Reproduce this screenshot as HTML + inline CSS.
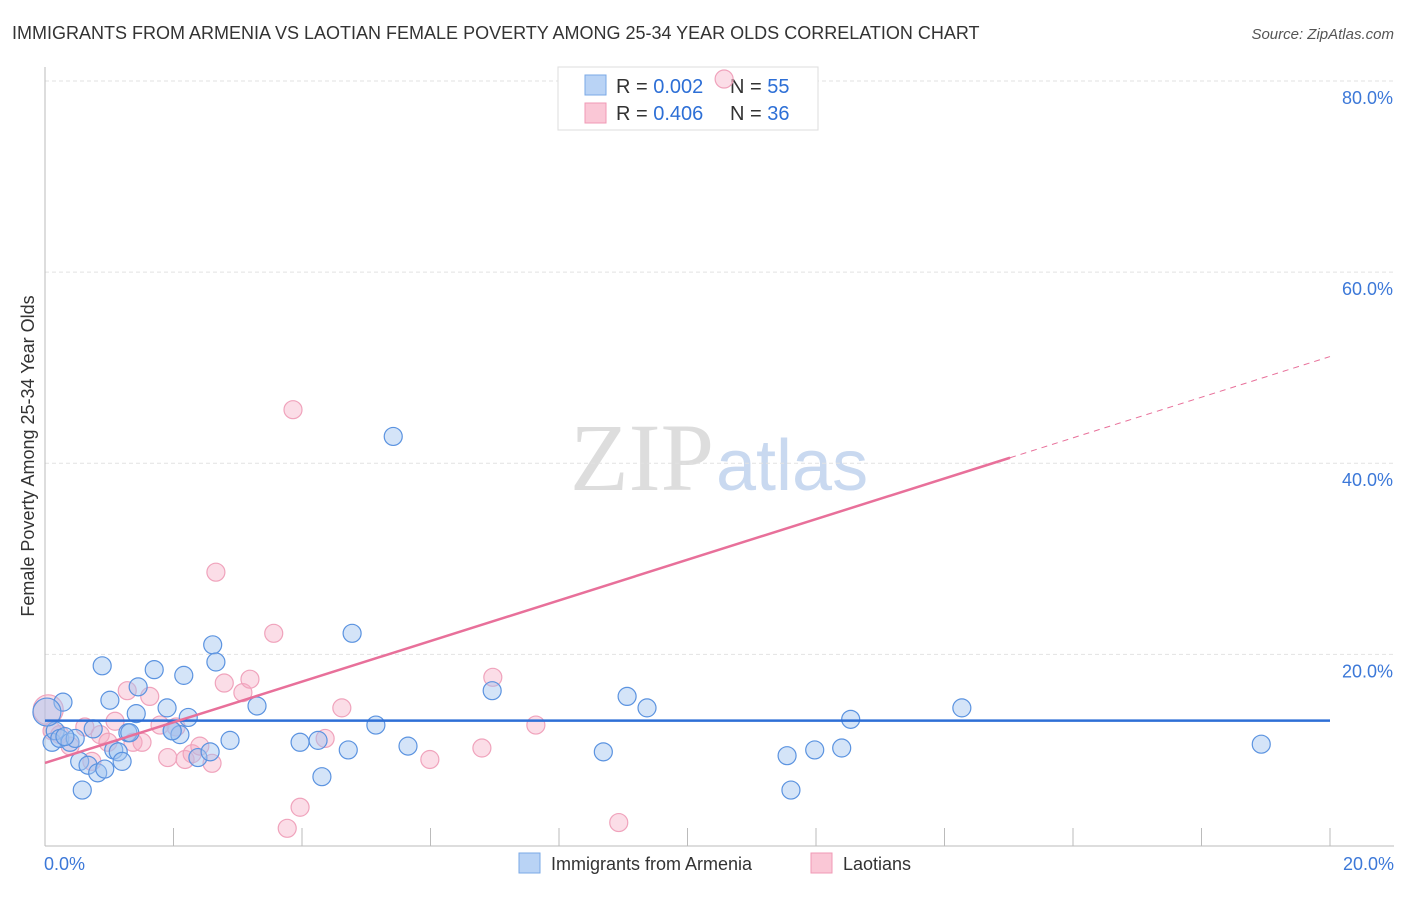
<!DOCTYPE html>
<html><head><meta charset="utf-8"><style>
body{margin:0;background:#fff;font-family:"Liberation Sans",sans-serif}
</style></head><body>
<svg id="c" width="1406" height="892" xmlns="http://www.w3.org/2000/svg">
<text x="12" y="39" font-size="18" fill="#333">IMMIGRANTS FROM ARMENIA VS LAOTIAN FEMALE POVERTY AMONG 25-34 YEAR OLDS CORRELATION CHART</text>
<text x="1394" y="39" font-size="15" fill="#555" font-style="italic" text-anchor="end">Source: ZipAtlas.com</text>
<text x="714" y="490" font-size="96" fill="#ddd" font-family="Liberation Serif,serif" text-anchor="end">ZIP</text>
<text x="716" y="490" font-size="72" fill="#c9d9f0">atlas</text>
<text transform="translate(34,456) rotate(-90)" font-size="18" fill="#333" text-anchor="middle">Female Poverty Among 25-34 Year Olds</text>
<g id="grid"></g>
<g>
<rect x="558" y="67" width="260" height="63" fill="#fff" stroke="#ddd"/>
<rect x="585" y="75" width="21" height="20" fill="#b9d3f5" stroke="#7aa8e6"/>
<rect x="585" y="103" width="21" height="20" fill="#fac7d6" stroke="#f09ab5"/>
<text x="616" y="93" font-size="20" fill="#333">R = <tspan fill="#2d6fd6">0.002</tspan></text>
<text x="730" y="93" font-size="20" fill="#333">N = <tspan fill="#2d6fd6">55</tspan></text>
<text x="616" y="120" font-size="20" fill="#333">R = <tspan fill="#2d6fd6">0.406</tspan></text>
<text x="730" y="120" font-size="20" fill="#333">N = <tspan fill="#2d6fd6">36</tspan></text>
</g>
<g id="pts"></g><g id="lines"></g>
<g>
<rect x="519" y="853" width="21" height="20" fill="#b9d3f5" stroke="#7aa8e6"/>
<text x="551" y="870" font-size="18" fill="#333">Immigrants from Armenia</text>
<rect x="811" y="853" width="21" height="20" fill="#fac7d6" stroke="#f09ab5"/>
<text x="843" y="870" font-size="18" fill="#333">Laotians</text>
</g>
</svg>
<script>
const yTicks=[20,40,60,80];
const yTickLabels=["20.0%","40.0%","60.0%","80.0%"];
const xTickLabels=["0.0%","20.0%"];
const blueX=[0.11,0.16,0.28,0.23,0.39,0.47,0.54,0.58,0.67,0.75,0.82,0.89,0.93,1.01,1.07,1.14,1.2,1.29,1.32,1.42,1.45,1.7,1.9,1.98,2.1,2.16,2.23,2.38,2.57,2.61,2.66,2.88,3.3,3.97,4.25,4.31,4.72,4.78,5.15,5.42,5.65,6.96,8.69,9.06,9.37,11.55,11.61,11.98,12.4,12.54,14.27,18.93,0.03,1.98,0.31];
const blueY=[10.8,12.0,15.0,11.2,10.8,11.2,8.8,5.8,8.4,12.2,7.6,18.8,8.0,15.2,10.0,9.8,8.8,11.8,11.8,13.8,16.6,18.4,14.4,12.0,11.6,17.8,13.4,9.2,9.8,21.0,19.2,11.0,14.6,10.8,11.0,7.2,10.0,22.2,12.6,42.8,10.4,16.2,9.8,15.6,14.4,9.4,5.8,10.0,10.2,13.2,14.4,10.6,13.96,12.0,11.4];
const pinkX=[0.05,0.11,0.23,0.39,0.62,0.73,0.86,0.98,1.09,1.28,1.37,1.51,1.63,1.79,1.91,2.04,2.18,2.29,2.41,2.6,2.66,2.79,3.08,3.19,3.56,3.77,3.86,3.97,4.36,4.62,5.99,6.8,6.97,7.64,8.93,10.57];
const pinkY=[14.2,12.0,11.6,10.4,12.4,8.8,11.6,10.8,13.0,16.2,10.8,10.8,15.6,12.6,9.2,12.4,9.0,9.6,10.4,8.6,28.6,17.0,16.0,17.4,22.2,1.8,45.6,4.0,11.2,14.4,9.0,10.2,17.6,12.6,2.4,80.2];
const blueTrend=[13.06,0.0];   // intercept, slope
const pinkTrend=[8.64,2.126];
const solidEnd=15.02;
const X=v=>45+v/20*1285, Y=v=>845.5-v*9.557;
const ns="http://www.w3.org/2000/svg";
function mk(p,t,a){const e=document.createElementNS(ns,t);for(const k in a)e.setAttribute(k,a[k]);document.getElementById(p).appendChild(e);return e;}
yTicks.forEach((t,i)=>{
 const l=mk('grid','line',{x1:45,x2:1394,y1:Y(t),y2:Y(t),stroke:'#e2e2e2','stroke-dasharray':'4,3'});
 
 
 const tx=mk('grid','text',{x:1393,y:Y(t)+23,'font-size':18,fill:'#3c78d8','text-anchor':'end'});tx.textContent=yTickLabels[i];
 
 
});
mk('grid','line',{x1:45,x2:45,y1:67,y2:846,stroke:'#bbb'});
mk('grid','line',{x1:45,x2:1394,y1:846,y2:846,stroke:'#bbb'});
for(let i=0;i<=10;i++){const x=X(i*2);mk('grid','line',{x1:x,x2:x,y1:828,y2:846,stroke:'#bbb'});}
xTickLabels.forEach((s,i)=>{const t=mk('grid','text',{x:i?1394:44,y:870,'font-size':18,fill:'#3c78d8','text-anchor':i?'end':'start'});t.textContent=s;
 
 });
pinkX.forEach((v,i)=>{const c=mk('pts','circle',{cx:X(v),cy:Y(pinkY[i]),r:i==0?15:9,fill:'rgba(246,170,196,0.4)',stroke:'#f0a3bc','stroke-width':1.2});
 
 });
blueX.forEach((v,i)=>{const c=mk('pts','circle',{cx:X(v),cy:Y(blueY[i]),r:i==52?14:9,fill:'rgba(160,196,240,0.45)',stroke:'#5b93e0','stroke-width':1.2});
 
 });
let l=mk('lines','line',{x1:X(0),x2:X(20),y1:Y(blueTrend[0]),y2:Y(blueTrend[0]+blueTrend[1]*20),stroke:'#2e6fd6','stroke-width':2.5});


l=mk('lines','line',{x1:X(0),x2:X(solidEnd),y1:Y(pinkTrend[0]),y2:Y(pinkTrend[0]+pinkTrend[1]*solidEnd),stroke:'#e8709a','stroke-width':2.5});


l=mk('lines','line',{x1:X(solidEnd),x2:X(20),y1:Y(pinkTrend[0]+pinkTrend[1]*solidEnd),y2:Y(pinkTrend[0]+pinkTrend[1]*20),stroke:'#e8709a','stroke-width':1,'stroke-dasharray':'6,5'});


</script>
</body></html>
